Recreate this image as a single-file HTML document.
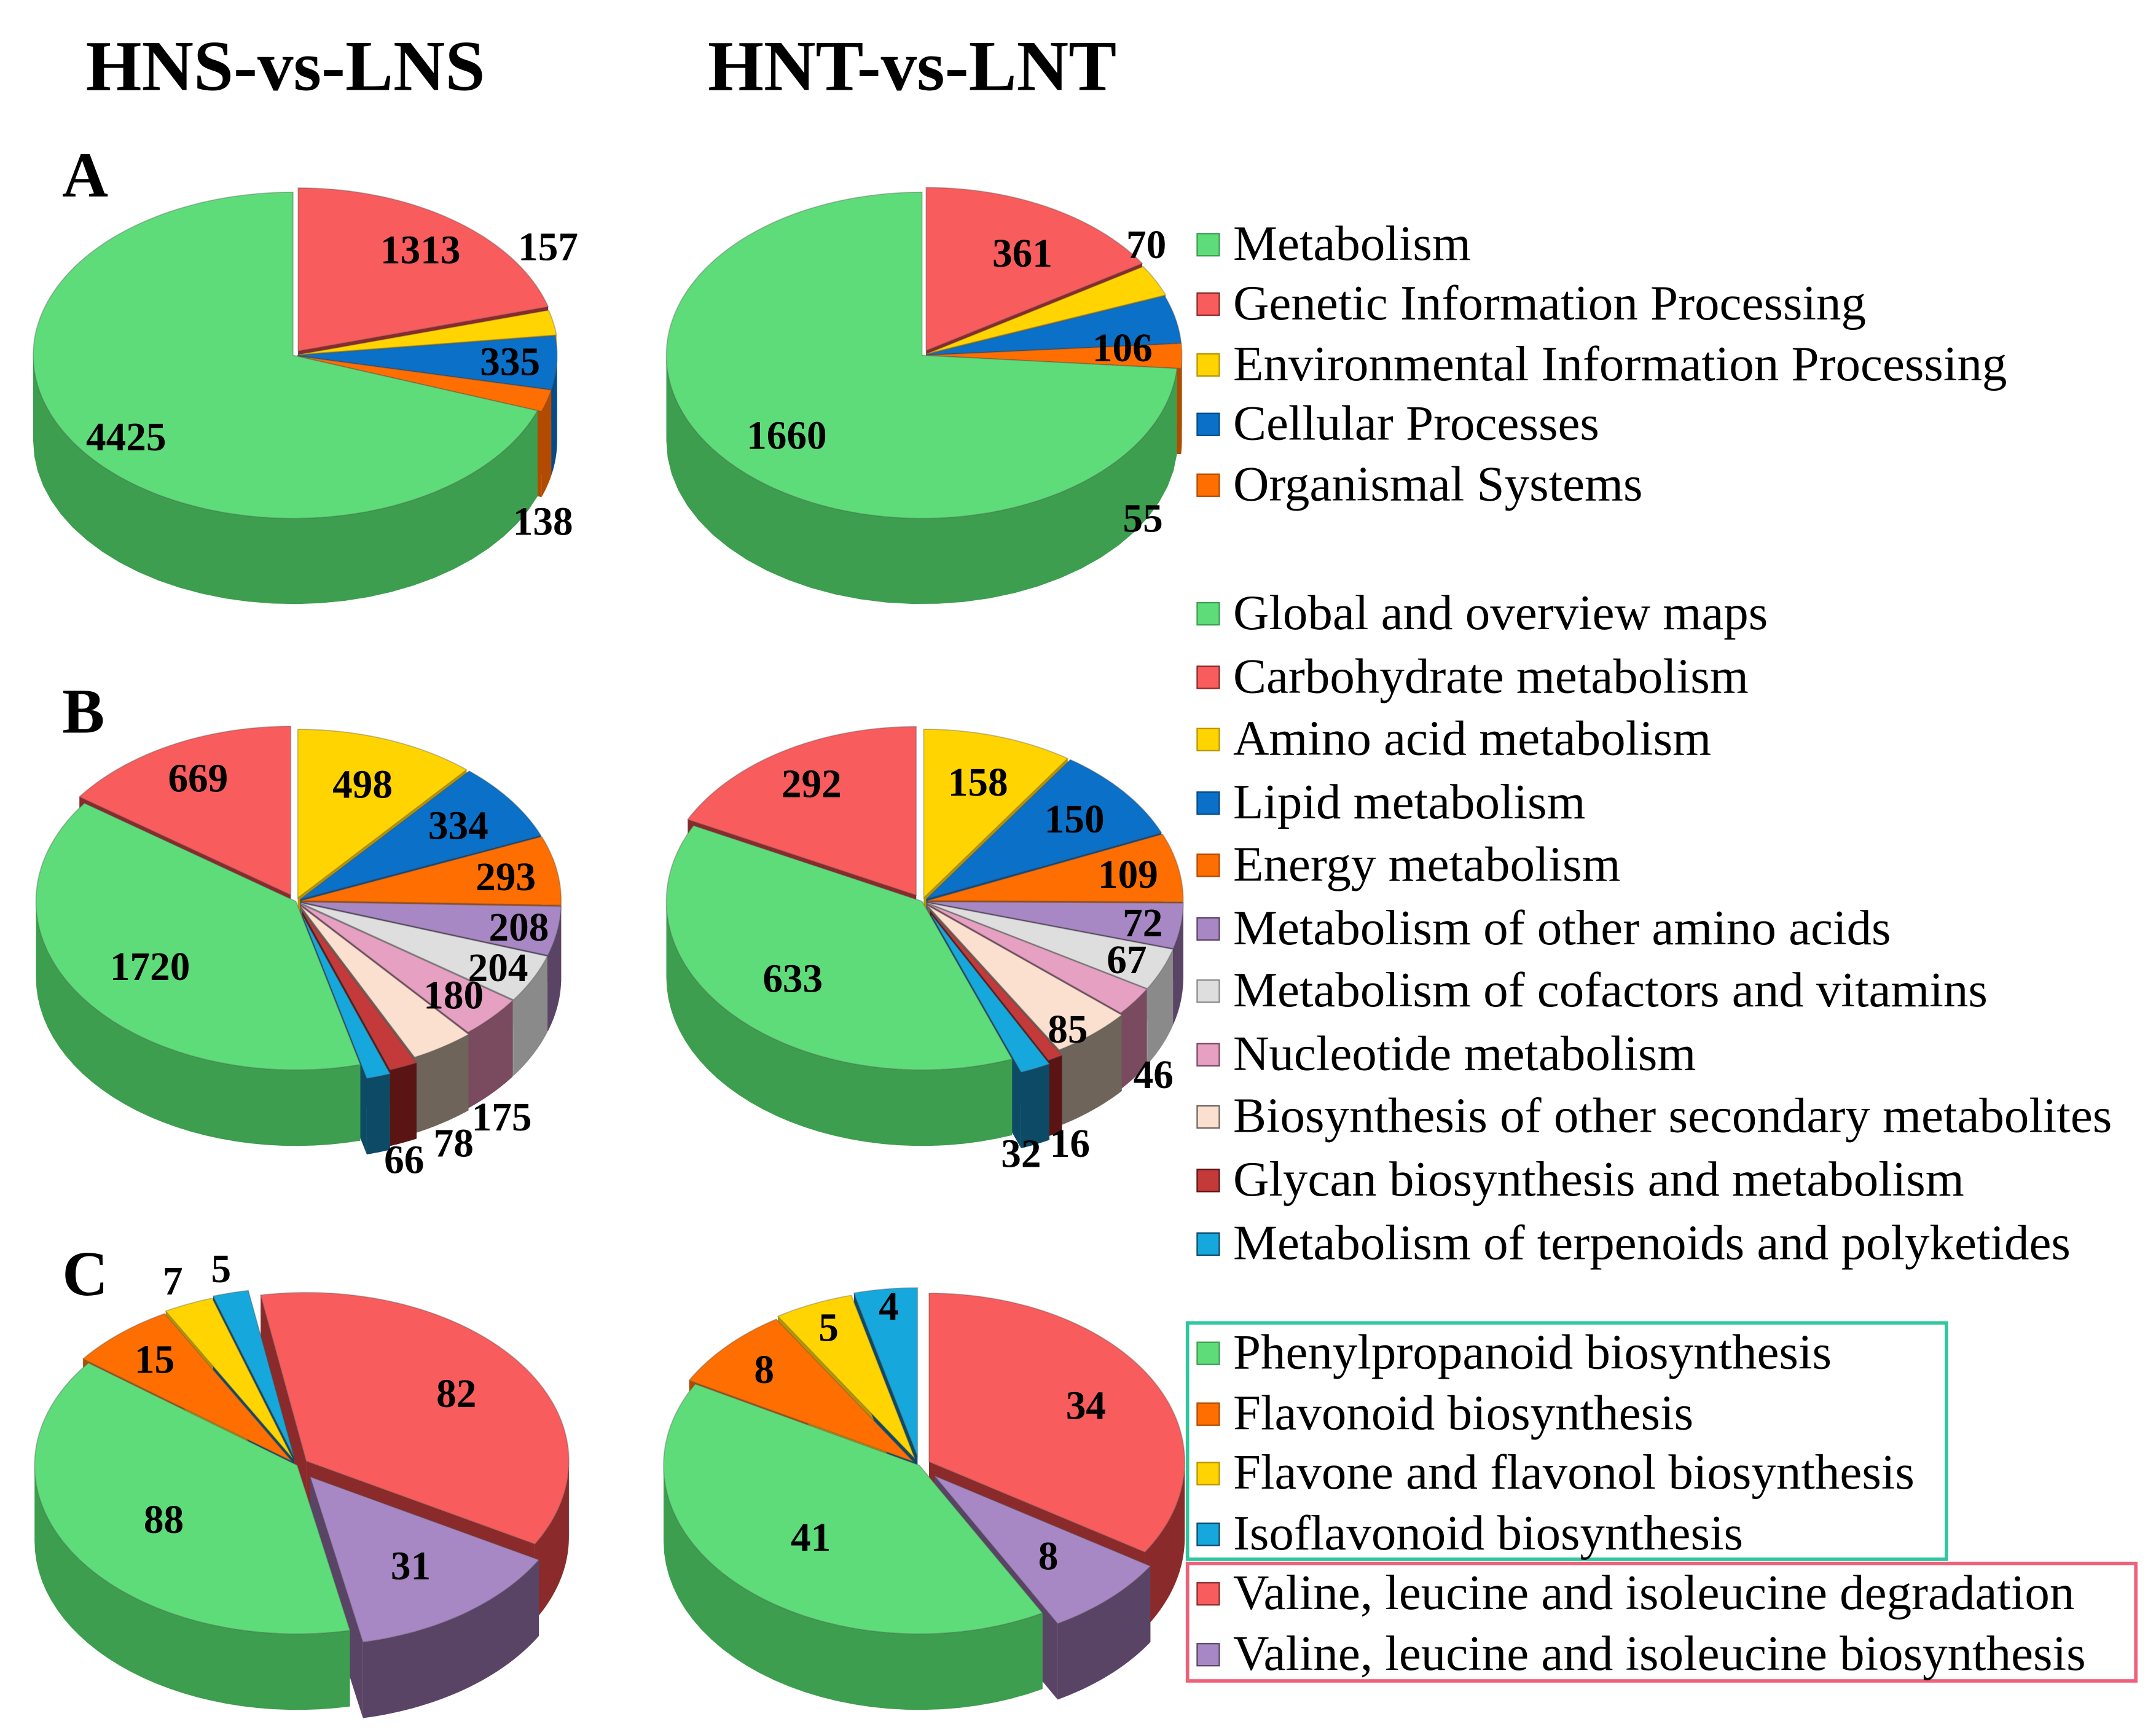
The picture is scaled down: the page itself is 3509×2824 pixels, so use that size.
<!DOCTYPE html>
<html><head><meta charset="utf-8"><style>
html,body{margin:0;padding:0;background:#fff}
svg{display:block}
text{font-family:"Liberation Serif",serif}
</style></head><body>
<svg id="chart" width="3509" height="2824" viewBox="0 0 1559.6 1255.1" xmlns="http://www.w3.org/2000/svg">
<g id="pies"></g>
<g id="lab">
<text x="62" y="65" font-size="52" font-weight="bold">HNS-vs-LNS</text>
<text x="512" y="65" font-size="52" font-weight="bold">HNT-vs-LNT</text>
<text x="45" y="142" font-size="46" font-weight="bold">A</text>
<text x="45" y="530" font-size="46" font-weight="bold">B</text>
<text x="45" y="937" font-size="46" font-weight="bold">C</text>
<rect x="859" y="957" width="549" height="171" fill="none" stroke="#2fc7a0" stroke-width="2.5"/>
<rect x="859" y="1131" width="686" height="85" fill="none" stroke="#f0607a" stroke-width="2.5"/>
</g>
<g id="legends"></g>
</svg>
<script>
const COL={green:"#5fdc7a",red:"#f85c5c",yellow:"#ffd400",blue:"#0a70c8",orange:"#ff6e00",purple:"#a888c4",gray:"#dedede",pink:"#e5a0c2",beige:"#fbe0d0",dred:"#c43a3a",cyan:"#16a8dc"};
const SIDE={green:"#3c9e4e",red:"#8a2a2a",yellow:"#b89500",blue:"#064a88",orange:"#b24a00",purple:"#5a4466",gray:"#8a8a8a",pink:"#7a4a5e",beige:"#6e645a",dred:"#5a1414",cyan:"#0c4a66"};

// Panel A data
const catsA=["Metabolism","Genetic Information Processing","Environmental Information Processing","Cellular Processes","Organismal Systems"];
const colsA=["green","red","yellow","blue","orange"];
const hnsA=[4425,1313,157,335,138];
const hntA=[1660,361,70,106,55];
// Panel B data
const catsB=["Global and overview maps","Carbohydrate metabolism","Amino acid metabolism","Lipid metabolism","Energy metabolism","Metabolism of other amino acids","Metabolism of cofactors and vitamins","Nucleotide metabolism","Biosynthesis of other secondary metabolites","Glycan biosynthesis and metabolism","Metabolism of terpenoids and polyketides"];
const colsB=["green","red","yellow","blue","orange","purple","gray","pink","beige","dred","cyan"];
const hnsB=[1720,669,498,334,293,208,204,180,175,78,66];
const hntB=[633,292,158,150,109,72,67,46,85,16,32];
// Panel C data
const catsC=["Phenylpropanoid biosynthesis","Flavonoid biosynthesis","Flavone and flavonol biosynthesis","Isoflavonoid biosynthesis","Valine, leucine and isoleucine degradation","Valine, leucine and isoleucine biosynthesis"];
const colsC=["green","orange","yellow","cyan","red","purple"];
const hnsC=[88,15,7,5,82,31];
const hntC=[41,8,5,4,34,8];

const orderA=[1,2,3,4,0];
const orderB=[2,3,4,5,6,7,8,9,10,0,1];
const orderC=[4,5,0,1,2,3];

const NS="http://www.w3.org/2000/svg";
function mk(tag,attrs,parent){const e=document.createElementNS(NS,tag);for(const k in attrs)e.setAttribute(k,attrs[k]);parent.appendChild(e);return e;}

function pie(g,name,cx,cy,rx,ry,depth,vals,cols,order,explode,labR,start,ndx,ndy){
  const total=vals.reduce((a,b)=>a+b,0);
  let acc=0;const sl=[];const st=start*Math.PI/180;
  order.forEach(i=>{const a0=st+acc/total*2*Math.PI;acc+=vals[i];const a1=st+acc/total*2*Math.PI;sl.push({i,a0,a1});});
  const P=(ox,oy,t,dy)=>[ox+rx*Math.sin(t),oy-ry*Math.cos(t)+(dy||0)];
  const off=s=>{const m=(s.a0+s.a1)/2,e=explode[s.i]||0;return [cx+e*Math.sin(m),cy-e*0.65*Math.cos(m)];};
  const gg=mk("g",{},g);
  
  
  sl.forEach(s=>{const [ox,oy]=off(s);[s.a0,s.a1].forEach(t=>{const p=P(ox,oy,t);
    const f=mk("polygon",{points:`${ox},${oy} ${p[0]},${p[1]} ${p[0]},${p[1]+depth} ${ox},${oy+depth}`,fill:SIDE[cols[s.i]]},gg);
    
    });});
  sl.forEach(s=>{const [ox,oy]=off(s);const lo=Math.max(s.a0,Math.PI/2),hi=Math.min(s.a1,1.5*Math.PI);if(hi<=lo)return;
    let d="",N=30;for(let k=0;k<=N;k++){const p=P(ox,oy,lo+(hi-lo)*k/N);d+=(k?"L":"M")+p[0]+","+p[1];}
    for(let k=N;k>=0;k--){const p=P(ox,oy,lo+(hi-lo)*k/N,depth);d+="L"+p[0]+","+p[1];}
    const w=mk("path",{d:d+"Z",fill:SIDE[cols[s.i]]},gg);
    
    });
  sl.forEach(s=>{const [ox,oy]=off(s);let d=`M${ox},${oy}`,N=Math.max(4,Math.ceil((s.a1-s.a0)*30));
    for(let k=0;k<=N;k++){const p=P(ox,oy,s.a0+(s.a1-s.a0)*k/N);d+="L"+p[0]+","+p[1];}
    const t=mk("path",{d:d+"Z",fill:COL[cols[s.i]],stroke:"rgba(80,80,80,0.35)","stroke-width":0.8},gg);
    
    });
  sl.forEach(s=>{const [ox,oy]=off(s);const m=(s.a0+s.a1)/2;const r=labR[s.i]||0.68;
    let x=ox+rx*r*Math.sin(m),y=oy-ry*r*Math.cos(m);if(r>1&&Math.cos(m)<0)y+=depth;
    x+=(ndx&&ndx[s.i])||0;y+=(ndy&&ndy[s.i])||0;
    const tx=mk("text",{x:x,y:y+10,"text-anchor":"middle","font-size":29,"font-weight":"bold"},gg);
    tx.textContent=vals[s.i];
    
    });
}
const pg=document.getElementById("pies");
pie(pg,"pie-a-hns",212,257,188,118,62,hnsA,colsA,orderA,[0,6,4,3,3],[0.72,0.78,1.05,0.82,1.15],0,[-10,0,-13,0,-30],[10,0,-54,0,20]);
pie(pg,"pie-a-hnt",667,257,185,118,62,hntA,colsA,orderA,[0,6,4,3,3],[0.72,0.78,1.25,0.82,1.15],0,[0,0,-48,-6,-56],[0,10,-13,16,55]);
pie(pg,"pie-b-hns",214,652,188,122,55,hnsB,colsB,orderB,[0,8,4,4,4,4,4,4,6,12,16],[0.68,0.78,0.72,0.75,0.8,0.85,0.85,0.8,1.25,1.25,1.3],0,[0,0,0,0,0,0,0,0,17,18,2],[0,0,0,0,0,0,0,0,-30,-28,-30]);
pie(pg,"pie-b-hnt",667,652,185,122,55,hntB,colsB,orderB,[0,8,4,4,4,4,4,4,6,12,16],[0.68,0.78,0.72,0.75,0.8,0.85,0.85,1.25,0.85,1.25,1.3],0,[0,0,0,0,0,0,0,-24,0,-12,-33],[0,0,0,0,0,0,0,-20,10,-20,-27]);
pie(pg,"pie-c-hns",215,1060,190,122,55,hnsC,colsC,orderC,[0,6,8,10,8,16],[0.6,0.8,1.15,1.15,0.7,0.65],-10,null,null);
pie(pg,"pie-c-hnt",665,1060,185,122,55,hntC,colsC,orderC,[0,6,8,10,8,16],[0.6,0.8,0.85,0.9,0.7,0.65],0,null,null);

function legend(cats,cols,ys){
  const lg=document.getElementById("legends");
  cats.forEach((c,k)=>{const y=ys[k];
    const g=mk("g",{},lg);
    
    
    mk("rect",{x:866,y:y-8,width:16,height:16,fill:COL[cols[k]],stroke:SIDE[cols[k]],"stroke-width":1},g);
    const t=mk("text",{x:892,y:y+11,"font-size":36},g);t.textContent=c;});
}
legend(catsA,colsA,[177,220,264,307,351]);
legend(catsB,colsB,[444,490,535,581,626,672,717,763,808,854,900]);
legend(catsC,colsC,[979,1023,1066,1110,1153,1197]);
</script>
</body></html>
